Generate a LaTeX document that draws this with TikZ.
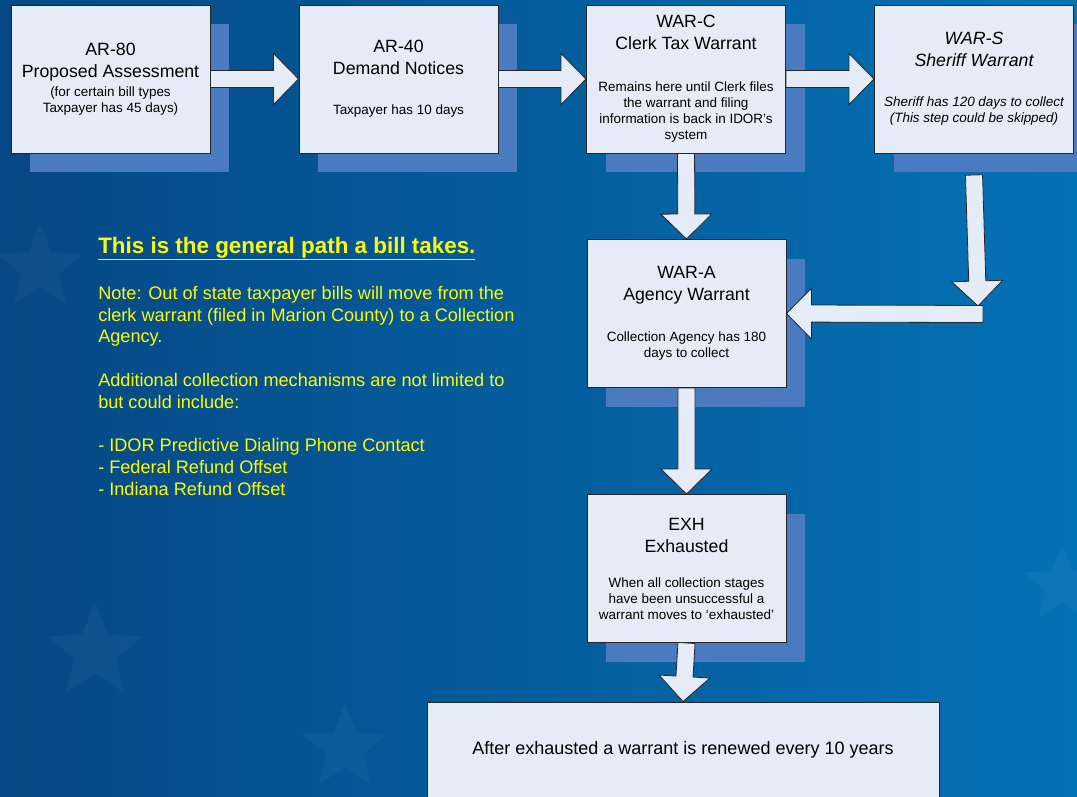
\documentclass[tikz,border=0pt]{standalone}
\usepackage{fontspec}
\setmainfont{Liberation Sans}
\usetikzlibrary{calc,shadows,shapes.geometric}

\definecolor{bgleft}{RGB}{6,72,132}
\definecolor{bgright}{RGB}{4,114,182}
\definecolor{boxfill}{RGB}{230,236,247}
\definecolor{shadowblue}{RGB}{74,122,192}
\definecolor{notecolor}{RGB}{250,250,10}

\newcommand{\bigsize}{\fontsize{13.3}{16.5}\selectfont}
\newcommand{\smallsize}{\fontsize{10.1}{12}\selectfont}
\newcommand{\blockarrow}[2]{%
  \draw[fatarrow] let \p1=(#1), \p2=(#2),
      \n1={veclen(\x2-\x1,\y2-\y1)}, \n2={atan2(\y2-\y1,\x2-\x1)} in
    [shift={(\p1)}, rotate=\n2]
    (0pt,-6.4pt) -- ({\n1-18.75pt},-6.4pt) -- ({\n1-18.75pt},-19.1pt) -- ({\n1},0pt)
    -- ({\n1-18.75pt},19.1pt) -- ({\n1-18.75pt},6.4pt) -- (0pt,6.4pt) -- cycle;}

\begin{document}
\begin{tikzpicture}[x=0.75pt, y=-0.75pt,
    stagebox/.style={draw=black!85, line width=0.75pt, fill=boxfill,
      minimum width=149.25pt, minimum height=111pt, inner sep=0pt, align=center,
      font=\bigsize,
      drop shadow={shadow xshift=14.25pt, shadow yshift=-14.25pt, fill=shadowblue, opacity=1}},
    fatarrow/.style={draw=black!85, line width=0.6pt, fill=boxfill, line join=miter},
    notetext/.style={text=notecolor, inner sep=0pt, align=left, font=\fontsize{13.6}{16.3}\selectfont}]
    \useasboundingbox (0,0) rectangle (1077,796);
    \clip (0,0) rectangle (1077,796);
    \shade[left color=bgleft, right color=bgright] (0,0) rectangle (1077,796);
    \foreach \sx/\sy/\sr [count=\i] in {40/268/45, 95/652/50, 345/748/45, 1062/585/40}
        \node[star, star points=5, star point ratio=2.3, fill=white, opacity=0.035,
              minimum size=\sr*1.5pt] (star\i) at (\sx,\sy) {};

    \node[stagebox] (ar80) at (110.5,79) {AR-80\\Proposed Assessment\\[-2.25pt]\smallsize (for certain bill types\\[-4.5pt]\smallsize Taxpayer has 45 days)};
    \node[stagebox] (ar40) at (398.5,79) {AR-40\\Demand Notices\\[13.5pt]\smallsize Taxpayer has 10 days};
    \node[stagebox] (warc) at (686,79) {WAR-C\\Clerk Tax Warrant\\[15pt]\smallsize Remains here until Clerk files\\[-4.5pt]\smallsize the warrant and filing\\[-4.5pt]\smallsize information is back in IDOR's\\[-4.5pt]\smallsize system};
    \node[stagebox] (wars) at (974,79) {\itshape WAR-S\\\itshape Sheriff Warrant\\[13.5pt]\smallsize\itshape Sheriff has 120 days to collect\\[-4.5pt]\smallsize\itshape (This step could be skipped)};
    \node[stagebox] (wara) at (686.5,313.5) {WAR-A\\Agency Warrant\\[14.25pt]\smallsize Collection Agency has 180\\[-4.5pt]\smallsize days to collect};
    \node[stagebox] (exh) at (686.5,568.5) {EXH\\Exhausted\\[9.75pt]\smallsize When all collection stages\\[-4.5pt]\smallsize have been unsuccessful a\\[-4.5pt]\smallsize warrant moves to `exhausted'};
    \node[draw=black!85, line width=0.75pt, fill=boxfill, minimum width=384pt, minimum height=72pt,
          font=\fontsize{13.5}{16}\selectfont] (renew) at (683,750) {After exhausted a warrant is renewed every 10 years};

    \coordinate (sheriffout) at (974,175);
    \coordinate (corner) at (978,306);
    \coordinate (cornerout) at (983,314);
    \blockarrow{ar80.east}{ar40.west}
    \blockarrow{ar40.east}{warc.west}
    \blockarrow{warc.east}{wars.west}
    \blockarrow{warc.south}{wara.north}
    \blockarrow{sheriffout}{corner}
    \blockarrow{cornerout}{wara.east}
    \blockarrow{wara.south}{exh.north}
    \blockarrow{exh.south}{renew.north}

    \node[notetext, anchor=base west, font=\bfseries\fontsize{16.8}{20}\selectfont] (headline) at (98,253) {\underline{This is the general path a bill takes.}};
    \node[notetext, anchor=north west] (note) at (98,286) {Note: Out of state taxpayer bills will move from the\\clerk warrant (filed in Marion County) to a Collection\\Agency.\\[16.3pt]Additional collection mechanisms are not limited to\\but could include:\\[16.3pt]- IDOR Predictive Dialing Phone Contact\\- Federal Refund Offset\\- Indiana Refund Offset};
\end{tikzpicture}
\end{document}
